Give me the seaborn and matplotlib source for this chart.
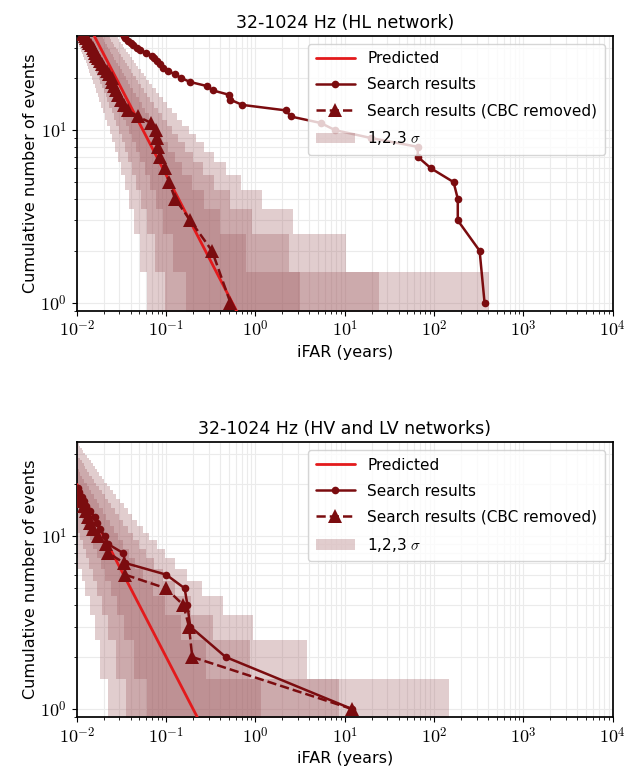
import numpy as np
import matplotlib
matplotlib.use("Agg")
import matplotlib.pyplot as plt
import matplotlib.ticker as mticker
import seaborn as sns
from math import lgamma, erf, sqrt

# iFAR (years) of the 1st, 2nd, 3rd ... loudest event (cumulative count = rank)
hl_ifar = [367, 323, 184, 184, 165, 92.5, 65.6, 65.6, 19.6, 7.78, 5.37, 2.47,
           2.21, 0.71, 0.524, 0.51, 0.331, 0.286, 0.186, 0.148, 0.126, 0.106,
           0.092, 0.0857, 0.0786, 0.074, 0.069, 0.060, 0.051, 0.047, 0.043,
           0.040, 0.037, 0.035, 0.034, 0.033]
hl_nocbc_ifar = [0.524, 0.326, 0.186, 0.126, 0.108, 0.096, 0.086, 0.082,
                 0.0785, 0.0765, 0.068, 0.048, 0.0377, 0.034, 0.031, 0.029,
                 0.0275, 0.026, 0.025, 0.0245, 0.023, 0.0215, 0.020, 0.019,
                 0.018, 0.0172, 0.0166, 0.016, 0.0155, 0.0150, 0.0143, 0.0138,
                 0.0132, 0.0128, 0.0123, 0.0118]
hvlv_ifar = [12, 0.463, 0.186, 0.173, 0.161, 0.100, 0.035, 0.033, 0.0225,
             0.0207, 0.018, 0.0168, 0.0159, 0.014, 0.0128, 0.012, 0.0113,
             0.0107, 0.0104]
hvlv_nocbc_ifar = [12, 0.196, 0.18, 0.156, 0.0993, 0.0346, 0.0341, 0.0225,
                   0.021, 0.0171, 0.0153, 0.014, 0.0134, 0.0128, 0.012, 0.0113,
                   0.0108]

# predicted background: straight line in log-log
pred_ifar = [0.01, 1.0]
hl_pred = [55, 0.55]
hvlv_pred = [20, 0.2]
sigma_levels = [1, 2, 3]

x_ticks = [1e-2, 1e-1, 1e0, 1e1, 1e2, 1e3, 1e4]
y_ticks = [1e0, 1e1]

panels = [
    ("32-1024 Hz (HL network)", hl_ifar, hl_nocbc_ifar, hl_pred),
    ("32-1024 Hz (HV and LV networks)", hvlv_ifar, hvlv_nocbc_ifar, hvlv_pred),
]

dark = '#7b0c0f'
red = '#e31a1c'
band_color = '#9e5a5e'


def poisson_cdf(n, mu):
    if n < 0:
        return 0.0
    k = np.arange(n + 1)
    logp = k * np.log(mu) - mu - np.array([lgamma(i + 1.0) for i in k])
    return float(np.exp(logp).sum())


def solve_mu(n, target):
    # mu where P(N <= n | mu) = target
    lo, hi = -8.0, 3.0
    for _ in range(60):
        mid = 0.5 * (lo + hi)
        if poisson_cdf(n, 10 ** mid) > target:
            lo = mid
        else:
            hi = mid
    return 10 ** (0.5 * (lo + hi))


def draw_bands(ax, rate, label):
    counts = range(1, 61)
    for i, k in enumerate(sigma_levels):
        alpha = 0.5 * (1 - erf(k / sqrt(2)))
        ys, xlo, xhi = [], [], []
        for n in counts:
            mu_hi = solve_mu(n, alpha)
            mu_lo = solve_mu(n - 1, 1 - alpha)
            ys += [n - 0.5, n + 0.5]
            xlo += [rate / mu_hi] * 2
            xhi += [rate / mu_lo] * 2
        ax.fill_betweenx(ys, xlo, xhi, color=band_color, alpha=0.3, lw=0,
                         label=label if i == 0 else None, zorder=1)


def pow_label(v, pos):
    return r'$10^{%d}$' % round(np.log10(v))


sns.set_theme(style="ticks", rc={
    'axes.edgecolor': 'black',
    'text.color': 'black',
    'axes.labelcolor': 'black',
    'xtick.color': 'black',
    'ytick.color': 'black',
    'xtick.direction': 'out',
    'ytick.direction': 'out',
    'mathtext.fontset': 'cm',
})
plt.rcParams['font.family'] = ['DejaVu Sans']

fig, axes = plt.subplots(2, 1, figsize=(6.35, 7.7), dpi=100)
fig.subplots_adjust(left=0.121, right=0.965, top=0.953, bottom=0.069, hspace=0.48)

for ax, (title, ifar, nocbc, pred) in zip(axes, panels):
    ax.set_xscale('log')
    ax.set_yscale('log')
    rate = pred[0] * pred_ifar[0]
    sns.lineplot(x=pred_ifar, y=pred, ax=ax, color=red, lw=2, label='Predicted',
                 sort=False, estimator=None, zorder=3)
    sns.lineplot(x=ifar, y=list(range(1, len(ifar) + 1)), ax=ax, color=dark,
                 lw=1.8, marker='o', markersize=5.5, markeredgewidth=0,
                 label='Search results', sort=False, estimator=None, zorder=4)
    sns.lineplot(x=nocbc, y=list(range(1, len(nocbc) + 1)), ax=ax, color=dark,
                 lw=1.8, linestyle='--', marker='^', markersize=10,
                 markeredgewidth=0, label='Search results (CBC removed)',
                 sort=False, estimator=None, zorder=4)
    draw_bands(ax, rate, r'1,2,3 $\sigma$')

    ax.set_xlim(1e-2, 1e4)
    ax.set_ylim(0.9, 35)
    ax.xaxis.set_major_locator(mticker.FixedLocator(x_ticks))
    ax.yaxis.set_major_locator(mticker.FixedLocator(y_ticks))
    ax.xaxis.set_major_formatter(mticker.FuncFormatter(pow_label))
    ax.yaxis.set_major_formatter(mticker.FuncFormatter(pow_label))
    ax.xaxis.set_minor_formatter(mticker.NullFormatter())
    ax.yaxis.set_minor_formatter(mticker.NullFormatter())
    ax.grid(True, which='both', color='#ebebeb', lw=0.8)
    ax.set_axisbelow(True)
    ax.tick_params(which='major', labelsize=13, length=3.5, width=0.8)
    ax.tick_params(which='minor', length=2, width=0.6)
    ax.set_title(title, fontsize=12.5)
    ax.set_xlabel('iFAR (years)', fontsize=11.5, labelpad=3)
    ax.set_ylabel('Cumulative number of events', fontsize=11.5, labelpad=2)
    ax.legend(loc='upper right', fontsize=11, framealpha=0.8, fancybox=True,
              labelspacing=0.72, handlelength=2.6, borderpad=0.5)

fig.savefig('out.png', dpi=100)
